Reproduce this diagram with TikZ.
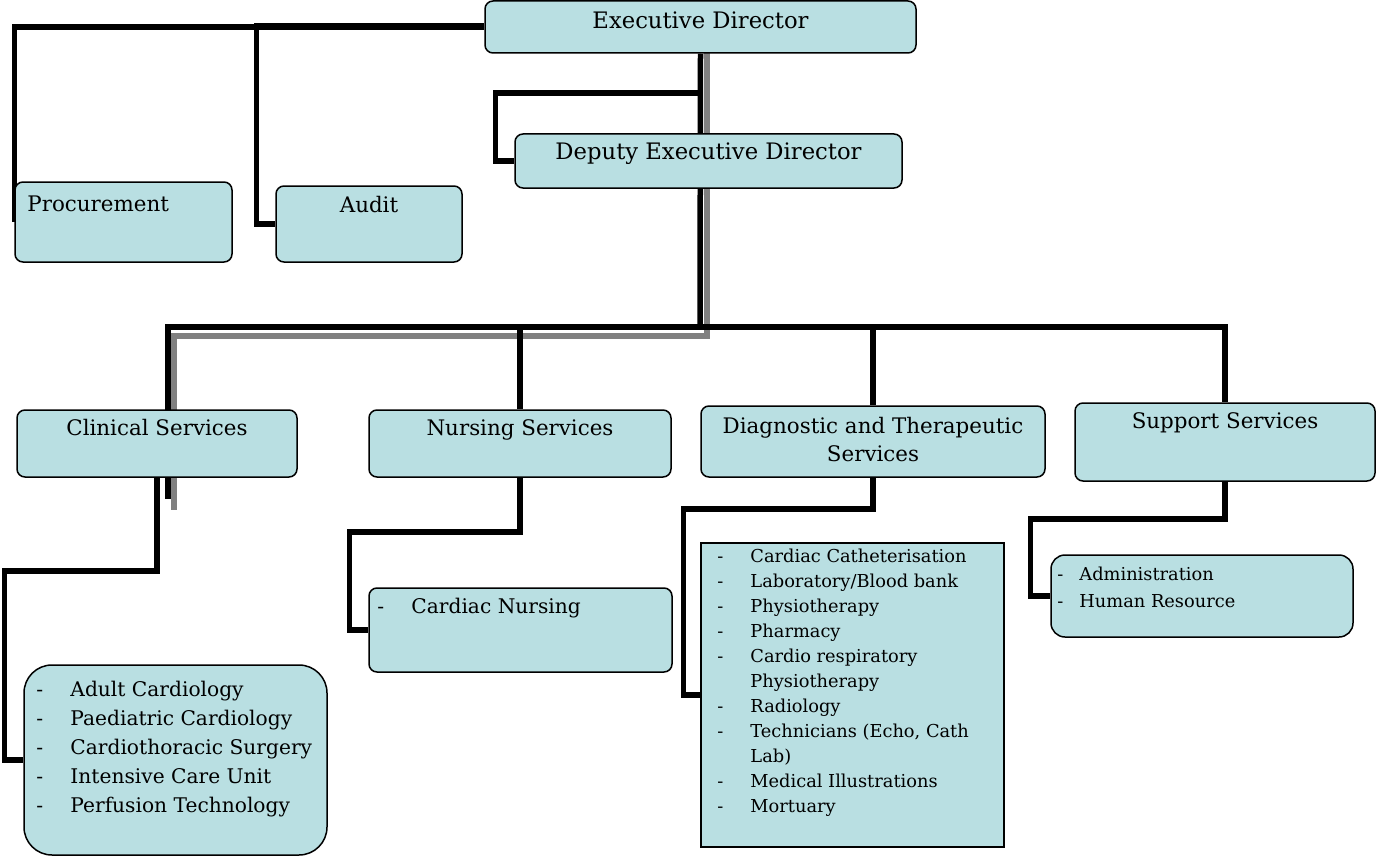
\documentclass[tikz,border=0pt]{standalone}
\usepackage{fontspec}
\setmainfont{DejaVu Serif}
\usetikzlibrary{positioning}
\definecolor{boxfill}{RGB}{185,223,226}
\pgfdeclarelayer{bg}
\pgfsetlayers{bg,main}
\newcommand{\dashitem}[2][34pt]{\makebox[#1][l]{-}#2}
\tikzset{
  box/.style={draw=black, line width=1.5pt, fill=boxfill, rounded corners=8pt, inner sep=0pt},
  hd/.style={inner sep=0pt, font=\fontsize{21.4}{28}\selectfont},
  bighd/.style={hd, font=\fontsize{22.7}{28}\selectfont},
  lst/.style={inner sep=0pt, align=left, anchor=north west},
  conn/.style={draw=black, line width=5.5pt},
  gline/.style={draw=black!50, line width=5.5pt},
}
\begin{document}
\begin{tikzpicture}[x=1pt,y=-1pt]
\useasboundingbox (0,0) rectangle (1376,856);
% top level
\node[box, minimum width=431pt, minimum height=52pt] (exec) at (700.5,27) {};
\node[box, minimum width=387pt, minimum height=54pt] (dep) at (708.5,161) {};
\node[box, minimum width=217pt, minimum height=80pt] (proc) at (123.5,222) {};
\node[box, minimum width=186pt, minimum height=76pt] (audit) at (369,224) {};
\node[bighd, anchor=north, below=11pt of exec.north] (exectxt) {Executive Director};
\node[bighd, anchor=north, below=9pt of dep.north] (deptxt) {Deputy Executive Director};
\node[hd, below right=14pt and 13pt of proc.north west, anchor=north west] (proctxt) {Procurement};
\node[hd, anchor=north, below=11pt of audit.north] (audittxt) {Audit};
% services
\node[box, minimum width=280pt, minimum height=67pt] (clin) at (157,443.5) {};
\node[box, minimum width=302pt, minimum height=67pt] (nurs) at (520,443.5) {};
\node[box, minimum width=344pt, minimum height=71pt] (diag) at (873,441.5) {};
\node[box, minimum width=300pt, minimum height=78pt] (supp) at (1225,442) {};
\node[hd, anchor=north, below=10pt of clin.north] (clintxt) {Clinical Services};
\node[hd, anchor=north, below=10pt of nurs.north] (nurstxt) {Nursing Services};
\node[hd, anchor=north, below=12pt of diag.north, align=center] (diagtxt) {Diagnostic and Therapeutic\\Services};
\node[hd, anchor=north, below=10pt of supp.north] (supptxt) {Support Services};
% units
\node[box, rounded corners=28pt, minimum width=303pt, minimum height=190pt] (clist) at (175.5,760) {};
\node[box, minimum width=303pt, minimum height=84pt] (nlist) at (520.5,630) {};
\node[box, sharp corners, minimum width=303pt, minimum height=304pt] (dlist) at (852.5,695) {};
\node[box, rounded corners=14pt, minimum width=302pt, minimum height=82pt] (slist) at (1202,596) {};
\node[lst, font=\fontsize{20.2}{29}\selectfont, below right=17pt and 13pt of clist.north west] (clisttxt)
  {\dashitem{Adult Cardiology}\\ \dashitem{Paediatric Cardiology}\\ \dashitem{Cardiothoracic Surgery}\\
   \dashitem{Intensive Care Unit}\\ \dashitem{Perfusion Technology}};
\node[lst, font=\fontsize{20.2}{29}\selectfont, below right=11pt and 9pt of nlist.north west] (nlisttxt)
  {\dashitem{Cardiac Nursing}};
\node[lst, font=\fontsize{17.8}{25}\selectfont, below right=7pt and 17pt of dlist.north west] (dlisttxt)
  {\dashitem[33pt]{Cardiac Catheterisation}\\ \dashitem[33pt]{Laboratory/Blood bank}\\
   \dashitem[33pt]{Physiotherapy}\\ \dashitem[33pt]{Pharmacy}\\ \dashitem[33pt]{Cardio respiratory}\\
   \hspace*{33pt}Physiotherapy\\ \dashitem[33pt]{Radiology}\\ \dashitem[33pt]{Technicians (Echo, Cath}\\
   \hspace*{33pt}Lab)\\ \dashitem[33pt]{Medical Illustrations}\\ \dashitem[33pt]{Mortuary}};
\node[lst, font=\fontsize{17.8}{27}\selectfont, below right=13pt and 7pt of slist.north west] (slisttxt)
  {\dashitem[22pt]{Administration}\\ \dashitem[22pt]{Human Resource}};
% connectors behind the boxes
\coordinate (bus) at (700,327);
\coordinate (dk) at (700,93);
\coordinate (gtop) at (707,53);
\coordinate (gk) at (174,336);
\coordinate (gend) at (174,510);
\coordinate (cend) at (168,499);
\begin{pgfonlayer}{bg}
\draw[conn] (exec.west) -| (proc.west);
\draw[conn] ([yshift=1.5pt]exec.west) -| ([xshift=-19pt]audit.west) -- (audit.west);
\draw[gline] (gtop) |- (gk) -- (gend);
\draw[conn] (exec.south) -- (bus);
\draw[conn] (dk) -| ([xshift=-19pt]dep.west) -- (dep.west);
\draw[conn] (bus) -| (cend);
\draw[conn] (bus) -| (nurs.north);
\draw[conn] (bus) -| (diag.north);
\draw[conn] (bus) -| (supp.north);
\draw[conn] (clin.south) -- ++(0,93) -| ([xshift=-19pt]clist.west) -- (clist.west);
\draw[conn] (nurs.south) -- ++(0,54) -| ([xshift=-19pt]nlist.west) -- (nlist.west);
\draw[conn] (diag.south) -- ++(0,31) -| ([xshift=-17pt]dlist.west) -- (dlist.west);
\draw[conn] (supp.south) -- ++(0,37) -| ([xshift=-20pt]slist.west) -- (slist.west);
\end{pgfonlayer}
\end{tikzpicture}
\end{document}
